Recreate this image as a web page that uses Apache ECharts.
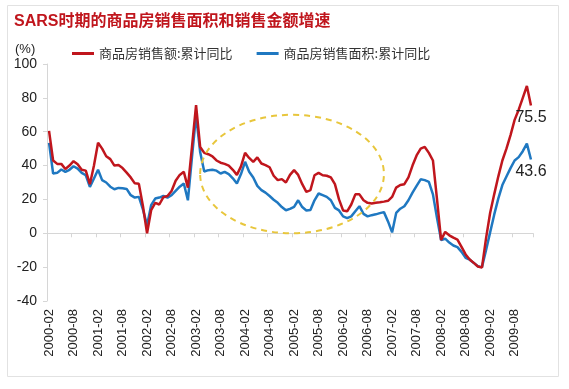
<!DOCTYPE html>
<html><head><meta charset="utf-8">
<script src="https://cdn.jsdelivr.net/npm/echarts@6/dist/echarts.min.js"></script>
<style>html,body{margin:0;padding:0;background:#fff}#c{width:569px;height:389px}</style>
</head><body><div id="c"></div>
<script>
// Categories: monthly, 2000-02 .. 2009-12
const categories = [];
for (let y = 2000; y <= 2009; y++) {
  for (let m = 1; m <= 12; m++) {
    if (y === 2000 && m < 2) continue;
    categories.push(y + '-' + String(m).padStart(2, '0'));
  }
}
const titleText = 'SARS时期的商品房销售面积和销售金额增速';
const seriesNames = ['商品房销售额:累计同比', '商品房销售面积:累计同比'];
const yTicks = { min: -40, max: 100, interval: 20 };

const salesValue = [
  60.5,43,41,41,38,40,42.6,40.8,37.5,37,
  29,40,53.5,50,45.5,43.8,40,40.3,38.5,35.8,
  33,29.5,29.2,16,0,13.6,18,17,21.3,22,
  25,31,34.5,36.3,27,51,75.7,51,47.5,46.7,
  45.5,43,41.7,41,40,37.5,34.5,39.5,47.5,44.5,
  42.2,44.8,41.2,40.3,39,34,31.4,32,30,34.5,
  37.3,34.5,29,24.5,25.5,34.3,35.7,34.3,34,33,
  29,20,13.5,13,17,23,23,19.5,18,17.6,
  18,18.3,18.7,19.2,21.5,27,28.5,29,33,40,
  46,50,51,47.5,43,20,-4,0.8,-1.2,-2.6,
  -3.7,-8,-12.5,-15.5,-17.5,-19.6,-20.3,-3,12,23,
  33.5,43,50,58,67,73,80,87,75.5
];
const salesArea = [
  53.4,35.3,35.7,37.7,36.3,37.5,39.6,38.2,35.7,34.3,
  27.4,32.4,37.5,31.4,30,27.5,26,26.8,26.6,26.2,
  22.5,21.1,21.5,14,4.7,16.6,20.5,21.1,22,21.1,
  22.5,25,27.5,29.4,19.5,45,69.8,48,36.5,37.3,
  37.5,37,35.3,36.3,35,32.5,29.4,35,42.2,36.3,
  33,28,25.5,24,22,19.8,18,15.5,13.6,14.4,
  15.6,19.5,15.5,13.5,13.8,19.5,23.5,22.5,21.5,19.5,
  15,13.5,10,9,10,13,16,11.5,10,10.7,
  11.2,11.9,12.5,7,0.5,12,14.5,16,19.5,24,
  28,31.9,31.4,30.4,23,9,-4,-3.2,-5.5,-7.2,
  -8.2,-11,-14.5,-15.6,-17.5,-19.5,-20,-10,0.5,11,
  20.5,28.5,33.5,38.5,43,45,48.5,53,43.6
];

const RED = '#c0161d', BLUE = '#1f78c1';
const FONT = 'Arial, "Liberation Sans", "Noto Sans CJK SC", sans-serif';

function endMark(arr) {
  const i = arr.length - 1;
  return {
    symbol: 'circle', symbolSize: 1,
    itemStyle: { color: 'rgba(0,0,0,0)' },
    label: { show: true, position: 'bottom', distance: 4, fontSize: 16, color: '#222', fontFamily: FONT, formatter: '{c}' },
    data: [{ coord: [categories[i], arr[i]], value: arr[i] }]
  };
}

const chart = echarts.init(document.getElementById('c'), null, { renderer: 'canvas' });
chart.setOption({
  animation: false,
  backgroundColor: '#fff',
  title: {
    text: titleText, left: 9, top: 9,
    textStyle: { color: RED, fontWeight: 'bold', fontSize: 16, fontFamily: FONT }
  },
  legend: {
    left: 67, top: 42, itemWidth: 22, itemHeight: 3, itemGap: 24,
    icon: 'rect',
    textStyle: { fontSize: 13, color: '#333', fontFamily: '"Noto Sans CJK SC", sans-serif' },
    data: seriesNames
  },
  grid: { left: 47, right: 36, top: 64, bottom: 88, containLabel: false },
  xAxis: [{
    type: 'category', data: categories, boundaryGap: true,
    axisLine: { show: false, onZero: false },
    axisTick: { show: false },
    axisLabel: { rotate: 90, interval: 5, fontSize: 13, color: '#222', margin: 8, fontFamily: FONT }
  }, {
    type: 'category', data: categories, boundaryGap: true, position: 'top',
    axisLine: { show: true, onZero: true, lineStyle: { color: '#d6d6d6', width: 1 } },
    axisTick: { show: true, interval: 5, inside: true, length: 4, lineStyle: { color: '#d6d6d6' } },
    axisLabel: { show: false }
  }],
  yAxis: {
    type: 'value', min: yTicks.min, max: yTicks.max, interval: yTicks.interval,
    splitLine: { show: false },
    axisLine: { show: true, lineStyle: { color: '#d6d6d6' } },
    axisTick: { show: true, length: 4, lineStyle: { color: '#d6d6d6' } },
    axisLabel: { fontSize: 14, color: '#222', margin: 10, fontFamily: FONT }
  },
  series: [{
    name: seriesNames[0], type: 'line', data: salesValue, symbol: 'none',
    lineStyle: { color: RED, width: 2.5 }, itemStyle: { color: RED },
    markPoint: endMark(salesValue), z: 3
  }, {
    name: seriesNames[1], type: 'line', data: salesArea, symbol: 'none',
    lineStyle: { color: BLUE, width: 2.5 }, itemStyle: { color: BLUE },
    markPoint: endMark(salesArea), z: 2
  }]
});

// annotation ellipse around the SARS period, positioned through the axes
const c = chart.convertToPixel({ xAxisIndex: 0, yAxisIndex: 0 }, ['2005-02', 35]);
const e1 = chart.convertToPixel({ xAxisIndex: 0, yAxisIndex: 0 }, ['2003-03', 0]);
const e2 = chart.convertToPixel({ xAxisIndex: 0, yAxisIndex: 0 }, ['2006-12', 70]);
chart.setOption({
  graphic: [{
    type: 'rect', silent: true,
    shape: { x: 7.5, y: 5.5, width: 551, height: 371 },
    style: { fill: 'none', stroke: '#e2e2e2', lineWidth: 1 }
  }, {
    type: 'text', left: 15, top: 43,
    style: { text: '(%)', fontSize: 13, fill: '#222', fontFamily: FONT }
  }, {
    type: 'ellipse', silent: true, z: 10,
    shape: { cx: (e1[0] + e2[0]) / 2, cy: (e1[1] + e2[1]) / 2, rx: (e2[0] - e1[0]) / 2, ry: (e1[1] - e2[1]) / 2 },
    style: { fill: 'none', stroke: '#e8c63c', lineWidth: 2, lineDash: [6, 5] }
  }]
});
</script>
</body></html>
